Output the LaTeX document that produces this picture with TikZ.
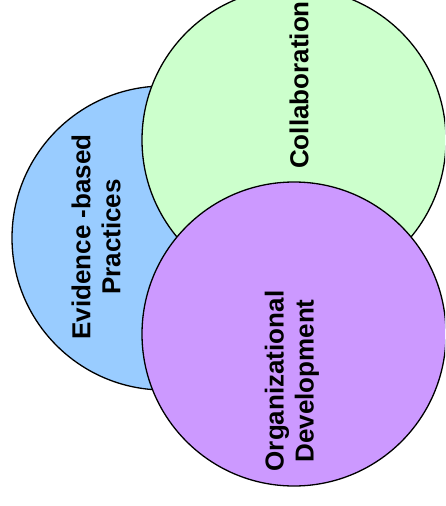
\documentclass[tikz,border=0pt]{standalone}
\usepackage{fontspec}
\setmainfont{Liberation Sans}
\usetikzlibrary{positioning}

\definecolor{ebpblue}{HTML}{99CCFF}
\definecolor{colgreen}{HTML}{CCFFCC}
\definecolor{odpurple}{HTML}{CC99FF}

\tikzset{
  venn/.style={draw, circle, line width=1.3pt, minimum size=304pt, inner sep=0pt},
  label text/.style={rotate=90, align=center, font=\bfseries\fontsize{26}{30}\selectfont}
}

\begin{document}
\begin{tikzpicture}[x=1pt, y=-1pt]
    \useasboundingbox (0,0) rectangle (445,506);
    \clip (0,0) rectangle (445,506);

    % the three circles, drawn back to front
    \node[venn, fill=ebpblue] (ebp) at (164,238) {};
    \node[venn, fill=colgreen] (collab) at (294,140) {};
    \node[venn, fill=odpurple] (orgdev) at (294,334) {};

    % labels
    \node[label text] (ebptext) at (96,237) {Evidence -based\\Practices};
    \node[label text] (collabtext) at (299,85) {Collaboration};
    \node[label text] (orgdevtext) at (292,381) {Organizational\\Development};
\end{tikzpicture}
\end{document}
